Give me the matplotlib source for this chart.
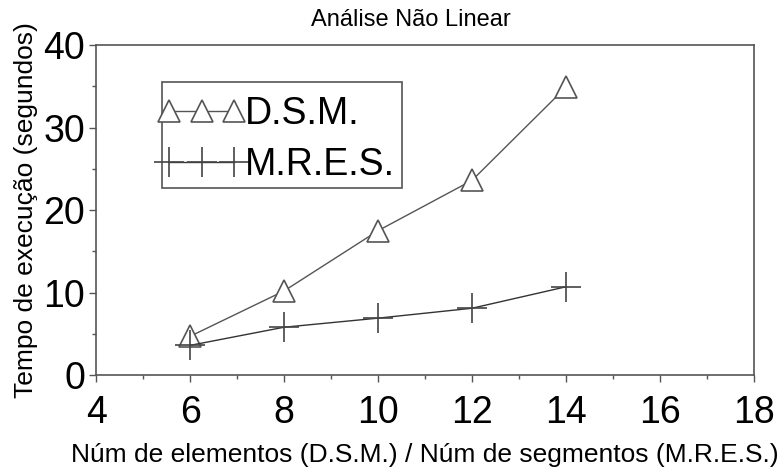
import matplotlib
matplotlib.use('Agg')
import matplotlib.pyplot as plt
from matplotlib.ticker import MultipleLocator
from matplotlib.legend_handler import HandlerLine2D
from matplotlib.patches import Rectangle

plt.rcParams['font.family'] = ['Liberation Sans', 'DejaVu Sans']

# dados
n_elem = [6, 8, 10, 12, 14]
t_dsm = [4.7, 10.2, 17.5, 23.6, 34.9]
t_mres = [3.6, 5.8, 6.9, 8.1, 10.7]

fig = plt.figure(figsize=(7.82, 4.70), dpi=100)
ax = fig.add_axes([0.123, 0.202, 0.841, 0.702])

l1, = ax.plot(n_elem, t_dsm, color='#555555', lw=1.0, marker='^', ms=16,
              mfc='white', mec='#555555', mew=1.2, label='D.S.M.')
l2, = ax.plot(n_elem, t_mres, color='#333333', lw=1.0, marker='+', ms=21,
              mec='#444444', mew=1.2, label='M.R.E.S.')

ax.set_xlim(4, 18)
ax.set_ylim(0, 40)
ax.xaxis.set_major_locator(MultipleLocator(2))
ax.xaxis.set_minor_locator(MultipleLocator(1))
ax.yaxis.set_major_locator(MultipleLocator(10))
ax.yaxis.set_minor_locator(MultipleLocator(5))
ax.tick_params(which='major', direction='out', length=5, width=1, colors='#555555',
               labelsize=27, labelcolor='black', pad=3)
ax.tick_params(axis='x', which='major', pad=9)
ax.tick_params(which='minor', direction='out', length=3, width=1, colors='#555555')
for s in ax.spines.values():
    s.set_color('#555555')
    s.set_linewidth(1.2)

ax.set_title('Análise Não Linear', fontsize=17, pad=14, x=0.479)
ax.set_xlabel('Núm de elementos (D.S.M.) / Núm de segmentos (M.R.E.S.)', fontsize=19, labelpad=9)
ax.set_ylabel('Tempo de execução (segundos)', fontsize=19, labelpad=4)

# legenda sem moldura + retângulo próprio
hm = {l1: HandlerLine2D(marker_pad=0), l2: HandlerLine2D(marker_pad=0)}
leg = ax.legend(loc='upper left', bbox_to_anchor=(0.111, 0.846), numpoints=3,
                handler_map=hm, fontsize=27, frameon=False, handlelength=1.73,
                handletextpad=0.3, borderpad=0, labelspacing=0.4, borderaxespad=0)
ax.add_patch(Rectangle((0.1003, 0.567), 0.365, 0.321, transform=ax.transAxes,
                       fill=False, edgecolor='#555555', lw=1.2, zorder=1))

fig.savefig('out.png', dpi=100)
